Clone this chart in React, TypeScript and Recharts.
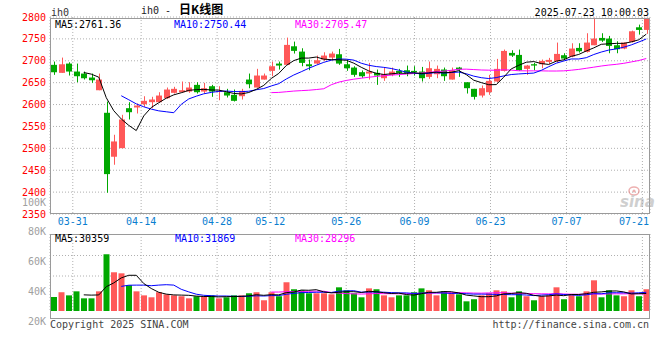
import React from 'react';
import { ComposedChart, Bar, Line, XAxis, YAxis, CartesianGrid, Cell } from 'recharts';

const dates = [
  '03-26', '03-27', '03-28', '03-31', '04-01', '04-02', '04-03', '04-07', '04-08', '04-09',
  '04-10', '04-11', '04-14', '04-15', '04-16', '04-17', '04-18', '04-21', '04-22', '04-23',
  '04-24', '04-25', '04-28', '04-29', '04-30', '05-06', '05-07', '05-08', '05-09', '05-12',
  '05-13', '05-14', '05-15', '05-16', '05-19', '05-20', '05-21', '05-22', '05-23', '05-26',
  '05-27', '05-28', '05-29', '05-30', '06-03', '06-04', '06-05', '06-06', '06-09', '06-10',
  '06-11', '06-12', '06-13', '06-16', '06-17', '06-18', '06-19', '06-20', '06-23', '06-24',
  '06-25', '06-26', '06-27', '06-30', '07-01', '07-02', '07-03', '07-04', '07-07', '07-08',
  '07-09', '07-10', '07-11', '07-14', '07-15', '07-16', '07-17', '07-18', '07-21', '07-22',
];

const open = [
  2690.7, 2672.4, 2693.6, 2675.4, 2670.8, 2661.7, 2632.7, 2581.2, 2480.8, 2500.4,
  2591.7, 2593.3, 2600.8, 2605.4, 2605.4, 2614.5, 2626.8, 2628.2, 2629.7, 2645.0,
  2629.7, 2641.9, 2629.5, 2628.2, 2622.2, 2619.1, 2657.1, 2638.9, 2657.1, 2677.0,
  2693.6, 2690.7, 2733.1, 2721.0, 2692.0, 2693.6, 2702.8, 2707.3, 2714.9, 2692.0,
  2684.5, 2673.9, 2670.8, 2672.4, 2660.2, 2667.8, 2676.9, 2678.4, 2676.9, 2675.4,
  2663.2, 2669.3, 2680.0, 2657.1, 2684.5, 2651.0, 2635.9, 2620.6, 2628.2, 2652.6,
  2676.9, 2718.0, 2713.4, 2681.5, 2692.1, 2692.1, 2697.5, 2699.0, 2712.7, 2709.6,
  2729.4, 2720.3, 2735.5, 2752.2, 2750.7, 2735.5, 2727.9, 2743.1, 2776.5, 2770.5,
];

const high = [
  2698.2, 2707.3, 2696.6, 2693.6, 2675.4, 2670.8, 2670.8, 2606.9, 2531.0, 2576.6,
  2605.4, 2602.4, 2619.0, 2617.7, 2628.2, 2638.9, 2640.5, 2652.6, 2651.0, 2651.0,
  2649.6, 2645.0, 2641.9, 2635.9, 2634.3, 2635.9, 2670.8, 2681.6, 2670.8, 2698.2,
  2698.2, 2752.9, 2743.8, 2728.6, 2702.8, 2711.9, 2719.4, 2721.0, 2727.1, 2702.8,
  2687.5, 2678.0, 2695.2, 2680.0, 2684.5, 2684.5, 2681.5, 2689.1, 2687.6, 2686.0,
  2698.2, 2689.1, 2684.5, 2684.5, 2686.0, 2651.0, 2635.9, 2643.5, 2667.8, 2704.3,
  2725.6, 2724.1, 2725.6, 2690.6, 2695.2, 2702.8, 2706.6, 2741.6, 2717.2, 2740.0,
  2740.0, 2762.9, 2798.6, 2762.9, 2756.8, 2744.6, 2741.6, 2768.9, 2782.6, 2797.9,
];

const low = [
  2667.9, 2672.4, 2666.3, 2651.0, 2657.2, 2649.6, 2632.7, 2398.6, 2462.5, 2500.4,
  2565.9, 2579.6, 2594.8, 2591.7, 2604.0, 2613.1, 2625.2, 2628.2, 2626.8, 2625.2,
  2625.2, 2617.7, 2609.9, 2616.1, 2607.0, 2611.5, 2637.3, 2638.9, 2657.1, 2664.7,
  2679.9, 2690.7, 2716.5, 2687.5, 2678.4, 2692.0, 2699.8, 2702.8, 2690.7, 2677.0,
  2663.3, 2661.0, 2657.1, 2645.0, 2654.1, 2664.7, 2663.2, 2664.7, 2666.3, 2652.6,
  2658.7, 2660.2, 2654.1, 2657.1, 2663.2, 2625.2, 2611.5, 2616.1, 2622.2, 2651.0,
  2675.4, 2708.8, 2676.9, 2667.8, 2678.4, 2683.0, 2692.9, 2695.9, 2702.0, 2708.1,
  2718.8, 2718.8, 2735.5, 2743.1, 2717.2, 2717.2, 2726.4, 2741.6, 2759.8, 2761.4,
];

const close = [
  2673.8, 2692.0, 2675.4, 2664.7, 2660.1, 2655.5, 2657.1, 2441.1, 2515.7, 2565.9,
  2582.5, 2597.8, 2608.5, 2611.5, 2620.6, 2634.3, 2635.9, 2632.7, 2638.9, 2628.2,
  2637.3, 2629.7, 2631.0, 2620.6, 2608.5, 2631.3, 2646.4, 2666.3, 2666.3, 2687.5,
  2689.1, 2736.3, 2722.6, 2695.2, 2687.5, 2701.2, 2711.9, 2716.5, 2693.6, 2682.9,
  2667.9, 2664.7, 2675.4, 2666.3, 2669.3, 2675.4, 2672.4, 2672.4, 2673.9, 2660.2,
  2683.0, 2681.5, 2664.7, 2678.4, 2680.0, 2637.4, 2617.6, 2637.4, 2654.1, 2681.5,
  2722.5, 2711.9, 2678.4, 2689.1, 2689.1, 2699.7, 2702.0, 2715.7, 2705.1, 2727.9,
  2721.8, 2741.6, 2750.7, 2746.1, 2733.9, 2726.4, 2741.6, 2767.4, 2770.5, 2797.9,
];

const volume = [
  36200, 39400, 37300, 40000, 35300, 35300, 40000, 64900, 52800, 52100,
  44100, 40000, 37300, 36000, 39400, 38000, 37300, 36700, 35300, 36700,
  36700, 37300, 35300, 36000, 37300, 37300, 38700, 39400, 34000, 39400,
  36700, 46100, 41400, 40700, 38700, 38700, 38700, 38000, 42700, 40700,
  38700, 36000, 42000, 41400, 37300, 36000, 37300, 37300, 39400, 42000,
  40700, 37300, 40000, 38700, 38000, 33300, 34700, 37300, 38700, 40700,
  40000, 36000, 40000, 36700, 34000, 36700, 37300, 42700, 34700, 38000,
  36700, 40000, 47400, 36000, 40700, 37300, 36700, 40700, 36700, 41400,
];

const priceTicks = [2350, 2400, 2450, 2500, 2550, 2600, 2650, 2700, 2750, 2800];
const volumeTicks = [20000, 40000, 60000, 80000, 100000];
const dateTickLabels = ['03-31', '04-14', '04-28', '05-12', '05-26', '06-09', '06-23', '07-07', '07-21'];

const priceHeader = ['MA5:2761.36', 'MA10:2750.44', 'MA30:2705.47'];
const volumeHeader = ['MA5:30359', 'MA10:31869', 'MA30:28296'];

const RED = '#ff5858';
const GREEN = '#00a800';
const MA5C = '#000000';
const MA10C = '#0000ff';
const MA30C = '#ff00ff';
const BLUE_LABEL = '#0a7ecf';
const GRID = '#b0b0b0';
const FRAME = '#9a9a9a';
const MONO = '"DejaVu Sans Mono", "Liberation Mono", monospace';
const CJK = '"Noto Sans CJK SC", "Noto Sans", sans-serif';

function sma(values: number[], n: number): (number | null)[] {
  return values.map((_, i) => {
    if (i < n - 1) return null;
    let s = 0;
    for (let k = i - n + 1; k <= i; k++) s += values[k];
    return s / n;
  });
}

const ma5 = sma(close, 5);
const ma10 = sma(close, 10);
const ma30 = sma(close, 30);
const vma5 = sma(volume, 5);
const vma10 = sma(volume, 10);
const vma30 = sma(volume, 30);

const rows = dates.map((d, i) => ({
  idx: i,
  date: d,
  range: [low[i], high[i]],
  open: open[i],
  high: high[i],
  low: low[i],
  close: close[i],
  up: close[i] >= open[i],
  vol: volume[i],
  ma5: ma5[i],
  ma10: ma10[i],
  ma30: ma30[i],
  vma5: vma5[i],
  vma10: vma10[i],
  vma30: vma30[i],
}));

const tickIdx = dateTickLabels.map((t) => dates.indexOf(t));

const Candle = (props: any) => {
  const { x, y, width, height } = props;
  const d = props.payload;
  if (!d || x == null || y == null) return null;
  const top = Math.min(y, y + height);
  const bottom = Math.max(y, y + height);
  const span = d.high - d.low;
  const toY = (v: number) => (span > 0 ? top + ((d.high - v) / span) * (bottom - top) : top);
  const color = d.close >= d.open ? RED : GREEN;
  const left = Math.round(x);
  const bw = Math.round(width);
  const cx = left + Math.floor(bw / 2) + 0.5;
  const bt = toY(Math.max(d.open, d.close));
  const bb = toY(Math.min(d.open, d.close));
  return (
    <g>
      <line x1={cx} x2={cx} y1={top} y2={bottom} stroke={color} strokeWidth={1} />
      <rect x={left} y={bt} width={bw} height={Math.max(1, bb - bt)} fill={color} />
    </g>
  );
};

const DateTick = (props: any) => {
  const { x, y, payload } = props;
  const label = dates[payload.value];
  const cx = Math.min(x, 634);
  return (
    <text x={cx} y={y + 7} textAnchor="middle" dominantBaseline="central" fill={BLUE_LABEL} fontSize={10} fontFamily={MONO}>
      {label}
    </text>
  );
};

const fmtK = (v: number) => `${Math.round(v / 1000)}K`;

export default function App() {
  return (
    <div style={{ position: 'absolute', left: 0, top: 0, width: 660, height: 360, background: '#fff', overflow: 'hidden' }}>
      <div style={{ position: 'absolute', left: 0, top: 0 }}>
        <ComposedChart width={660} height={232} data={rows} margin={{ top: 17, right: 10, left: 0, bottom: 0 }}>
          <CartesianGrid xAxisId="num" stroke={GRID} strokeDasharray="1 2" />
          <XAxis
            xAxisId="num"
            dataKey="idx"
            type="number"
            domain={[0, dates.length - 1]}
            ticks={tickIdx}
            interval={0}
            allowDataOverflow
            tick={<DateTick />}
            tickLine={false}
            axisLine={false}
            tickSize={0}
            tickMargin={0}
            height={18}
          />
          <XAxis xAxisId="cat" dataKey="date" type="category" hide height={0} />
          <YAxis
            domain={[2350, 2800]}
            ticks={priceTicks}
            interval={0}
            allowDataOverflow
            width={50}
            tickLine={false}
            axisLine={false}
            tickSize={0}
            tickMargin={4}
            tick={{ fill: '#ff0000', fontSize: 10, fontFamily: MONO }}
          />
          <Bar xAxisId="cat" dataKey="range" barSize={6} isAnimationActive={false} shape={(p: any) => <Candle {...p} />} />
          <Line xAxisId="cat" dataKey="ma30" stroke={MA30C} strokeWidth={1} dot={false} isAnimationActive={false} />
          <Line xAxisId="cat" dataKey="ma10" stroke={MA10C} strokeWidth={1} dot={false} isAnimationActive={false} />
          <Line xAxisId="cat" dataKey="ma5" stroke={MA5C} strokeWidth={1} dot={false} isAnimationActive={false} />
        </ComposedChart>
      </div>

      <div style={{ position: 'absolute', left: 0, top: 180 }}>
        <ComposedChart width={660} height={150} data={rows} margin={{ top: 54, right: 10, left: 0, bottom: 19 }}>
          <CartesianGrid
            xAxisId="num"
            stroke={GRID}
            strokeDasharray="1 2"
            horizontalPoints={[75.5, 96]}
          />
          <XAxis xAxisId="cat" dataKey="date" type="category" hide height={0} />
          <XAxis
            xAxisId="num"
            dataKey="idx"
            type="number"
            domain={[0, dates.length - 1]}
            ticks={tickIdx}
            interval={0}
            allowDataOverflow
            hide
            height={0}
          />
          <YAxis
            domain={[26800, 78500]}
            ticks={volumeTicks}
            interval={0}
            allowDataOverflow
            width={50}
            tickLine={false}
            axisLine={false}
            tickSize={0}
            tickMargin={4}
            tickFormatter={fmtK}
            tick={{ fill: '#a0a0a0', fontSize: 10, fontFamily: MONO }}
          />
          <Bar xAxisId="cat" dataKey="vol" barSize={6} isAnimationActive={false}>
            {rows.map((r, i) => (
              <Cell key={i} fill={r.up ? RED : GREEN} />
            ))}
          </Bar>
          <Line xAxisId="cat" dataKey="vma30" stroke={MA30C} strokeWidth={1} dot={false} isAnimationActive={false} />
          <Line xAxisId="cat" dataKey="vma10" stroke={MA10C} strokeWidth={1} dot={false} isAnimationActive={false} />
          <Line xAxisId="cat" dataKey="vma5" stroke={MA5C} strokeWidth={1} dot={false} isAnimationActive={false} />
        </ComposedChart>
      </div>

      <svg width={660} height={360} style={{ position: 'absolute', left: 0, top: 0, pointerEvents: 'none' }}>
        <rect x={50.5} y={18.5} width={599} height={195} fill="none" stroke={FRAME} strokeWidth={1} />
        <rect x={50.5} y={234.5} width={599} height={84} fill="none" stroke={FRAME} strokeWidth={1} />

        <text x={51} y={16} fontSize={10} fontFamily={MONO} fill="#333">ih0</text>
        <text x={141} y={14} fontSize={10} fontFamily={MONO} fill="#222">
          ih0 -
          <tspan dx={8} fontFamily={CJK} fontSize={12} fontWeight="bold" fill="#000">日K线图</tspan>
        </text>
        <text x={649} y={16} textAnchor="end" fontSize={10} fontFamily={MONO} fill="#000">2025-07-23 10:00:03</text>

        <text x={55} y={27.5} fontSize={10} fontFamily={MONO} fill={MA5C}>{priceHeader[0]}</text>
        <text x={174} y={27.5} fontSize={10} fontFamily={MONO} fill={MA10C}>{priceHeader[1]}</text>
        <text x={295} y={27.5} fontSize={10} fontFamily={MONO} fill={MA30C}>{priceHeader[2]}</text>

        <text x={55} y={242} fontSize={10} fontFamily={MONO} fill={MA5C}>{volumeHeader[0]}</text>
        <text x={175} y={242} fontSize={10} fontFamily={MONO} fill={MA10C}>{volumeHeader[1]}</text>
        <text x={295} y={242} fontSize={10} fontFamily={MONO} fill={MA30C}>{volumeHeader[2]}</text>

        <text x={50} y={327.5} fontSize={10} fontFamily={MONO} fill="#444">Copyright 2025 SINA.COM</text>
        <text x={649} y={327.5} textAnchor="end" fontSize={10} fontFamily={MONO} fill="#444">http://finance.sina.com.cn</text>

        <g opacity={0.55}>
          <ellipse cx={634} cy={191} rx={5} ry={4} fill="none" stroke="#e07070" strokeWidth={1.5} />
          <circle cx={634} cy={191} r={1.5} fill="#e07070" />
          <text x={620} y={207} fontSize={15} fontStyle="italic" fontWeight="bold" fontFamily='"DejaVu Sans", sans-serif' fill="#a8a8a8">sina</text>
        </g>
      </svg>
    </div>
  );
}
